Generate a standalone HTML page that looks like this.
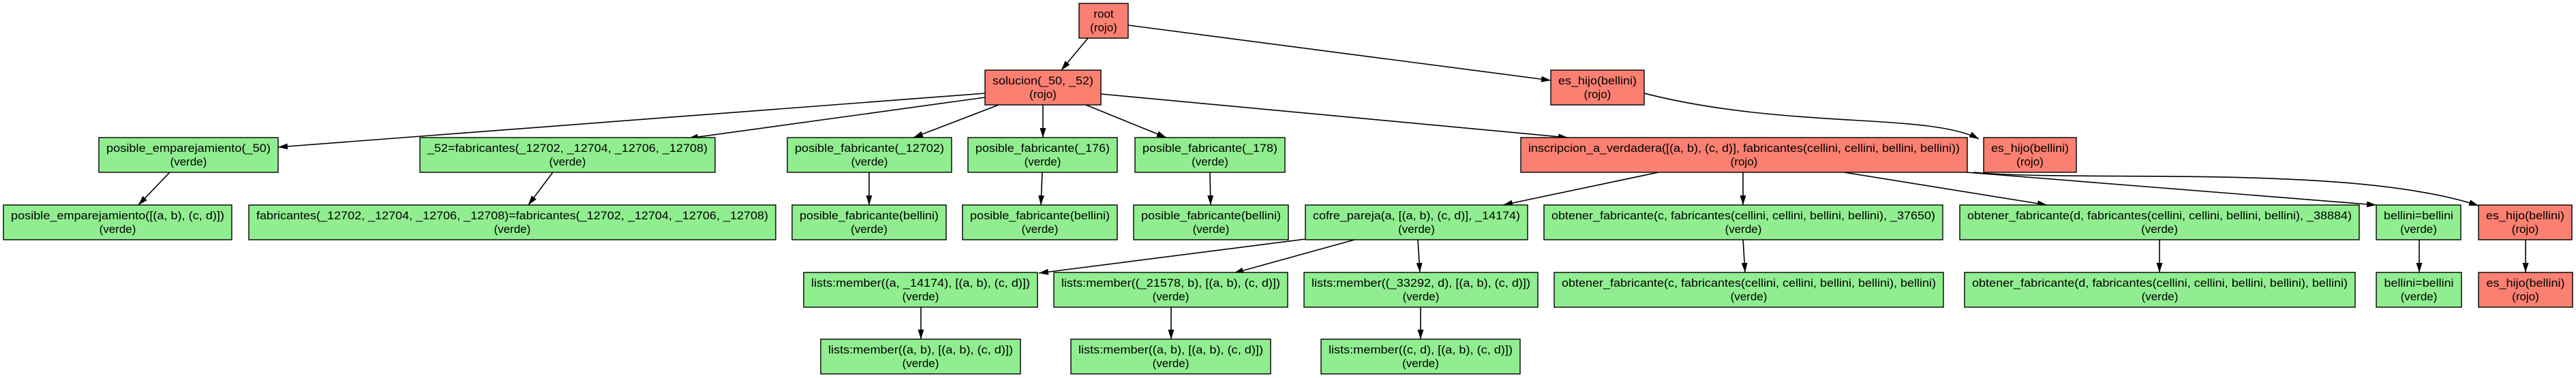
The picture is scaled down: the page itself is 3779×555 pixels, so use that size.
<!DOCTYPE html>
<html><head><meta charset="utf-8"><style>
html,body{margin:0;padding:0;background:#fff;width:3779px;height:555px;overflow:hidden}
svg text{font-family:"Liberation Sans",Arial,sans-serif;font-size:17px;fill:#000;text-anchor:middle}
.r{fill:#fa8072;stroke:#000;stroke-width:1.4}
.g{fill:#90ee90;stroke:#000;stroke-width:1.4}
.e{stroke:#000;stroke-width:1.6;fill:none;marker-end:url(#a)}
</style></head><body>
<svg width="3779" height="555" viewBox="0 0 3779 555" xmlns="http://www.w3.org/2000/svg">
<defs><marker id="a" markerUnits="userSpaceOnUse" markerWidth="15" markerHeight="10" refX="14" refY="4.5" orient="auto"><path d="M0,0 L14,4.5 L0,9 z" fill="#000"/></marker></defs>
<!-- edges -->
<path class="e" d="M1596,56 L1557,103"/>
<path class="e" d="M1655,37 L2275,118"/>
<path class="e" d="M1445,137 L408,216"/>
<path class="e" d="M1445,143 L1010,203"/>
<path class="e" d="M1465,154 L1340,202"/>
<path class="e" d="M1530,154 L1530,202"/>
<path class="e" d="M1593,154 L1711,202"/>
<path class="e" d="M1615,138 L2300,202"/>
<path class="e" d="M2412,137 C2620,190 2830,165 2903,204"/>
<path class="e" d="M249,253 L203,301"/>
<path class="e" d="M811,253 L775,301"/>
<path class="e" d="M1275,253 L1275,301"/>
<path class="e" d="M1529,253 L1527,301"/>
<path class="e" d="M1775,253 L1776,301"/>
<path class="e" d="M2433,253 L2205,301"/>
<path class="e" d="M2557,253 L2557,301"/>
<path class="e" d="M2705,253 L3003,301"/>
<path class="e" d="M2885,253 L3486,301"/>
<path class="e" d="M2895,253 C3050,268 3450,240 3636,302"/>
<path class="e" d="M1915,351 L1524,401"/>
<path class="e" d="M1987,352 L1810,401"/>
<path class="e" d="M2080,352 L2083,400"/>
<path class="e" d="M2557,352 L2560,400"/>
<path class="e" d="M3168,352 L3168,400"/>
<path class="e" d="M3549,352 L3549,400"/>
<path class="e" d="M3705,352 L3705,400"/>
<path class="e" d="M1351,451 L1351,498"/>
<path class="e" d="M1718,451 L1718,498"/>
<path class="e" d="M2084,451 L2084,498"/>
<!-- nodes -->
<rect class="r" x="1583" y="5" width="72" height="51"/><text x="1619" y="26">root</text><text x="1619" y="46">(rojo)</text>
<rect class="r" x="1445" y="103" width="170" height="51"/><text x="1530" y="124" textLength="148" lengthAdjust="spacingAndGlyphs">solucion(_50, _52)</text><text x="1530" y="144">(rojo)</text>
<rect class="r" x="2275" y="103" width="137" height="51"/><text x="2343.5" y="124" textLength="115" lengthAdjust="spacingAndGlyphs">es_hijo(bellini)</text><text x="2343.5" y="144">(rojo)</text>

<rect class="g" x="145" y="202" width="263" height="51"/><text x="276.5" y="223" textLength="241" lengthAdjust="spacingAndGlyphs">posible_emparejamiento(_50)</text><text x="276.5" y="243">(verde)</text>
<rect class="g" x="616" y="202" width="433" height="51"/><text x="832.5" y="223" textLength="411" lengthAdjust="spacingAndGlyphs">_52=fabricantes(_12702, _12704, _12706, _12708)</text><text x="832.5" y="243">(verde)</text>
<rect class="g" x="1155" y="202" width="241" height="51"/><text x="1275.5" y="223" textLength="219" lengthAdjust="spacingAndGlyphs">posible_fabricante(_12702)</text><text x="1275.5" y="243">(verde)</text>
<rect class="g" x="1420" y="202" width="219" height="51"/><text x="1529.5" y="223" textLength="197" lengthAdjust="spacingAndGlyphs">posible_fabricante(_176)</text><text x="1529.5" y="243">(verde)</text>
<rect class="g" x="1665" y="202" width="220" height="51"/><text x="1775" y="223" textLength="198" lengthAdjust="spacingAndGlyphs">posible_fabricante(_178)</text><text x="1775" y="243">(verde)</text>
<rect class="r" x="2231" y="202" width="655" height="51"/><text x="2558.5" y="223" textLength="633" lengthAdjust="spacingAndGlyphs">inscripcion_a_verdadera([(a, b), (c, d)], fabricantes(cellini, cellini, bellini, bellini))</text><text x="2558.5" y="243">(rojo)</text>
<rect class="r" x="2910" y="202" width="136" height="51"/><text x="2978" y="223" textLength="114" lengthAdjust="spacingAndGlyphs">es_hijo(bellini)</text><text x="2978" y="243">(rojo)</text>

<rect class="g" x="5" y="301" width="335" height="51"/><text x="172.5" y="322" textLength="313" lengthAdjust="spacingAndGlyphs">posible_emparejamiento([(a, b), (c, d)])</text><text x="172.5" y="342">(verde)</text>
<rect class="g" x="365" y="301" width="773" height="51"/><text x="751.5" y="322" textLength="751" lengthAdjust="spacingAndGlyphs">fabricantes(_12702, _12704, _12706, _12708)=fabricantes(_12702, _12704, _12706, _12708)</text><text x="751.5" y="342">(verde)</text>
<rect class="g" x="1162" y="301" width="226" height="51"/><text x="1275" y="322" textLength="204" lengthAdjust="spacingAndGlyphs">posible_fabricante(bellini)</text><text x="1275" y="342">(verde)</text>
<rect class="g" x="1412" y="301" width="227" height="51"/><text x="1525.5" y="322" textLength="205" lengthAdjust="spacingAndGlyphs">posible_fabricante(bellini)</text><text x="1525.5" y="342">(verde)</text>
<rect class="g" x="1663" y="301" width="227" height="51"/><text x="1776.5" y="322" textLength="205" lengthAdjust="spacingAndGlyphs">posible_fabricante(bellini)</text><text x="1776.5" y="342">(verde)</text>
<rect class="g" x="1915" y="301" width="326" height="51"/><text x="2078" y="322" textLength="304" lengthAdjust="spacingAndGlyphs">cofre_pareja(a, [(a, b), (c, d)], _14174)</text><text x="2078" y="342">(verde)</text>
<rect class="g" x="2265" y="301" width="585" height="51"/><text x="2557.5" y="322" textLength="563" lengthAdjust="spacingAndGlyphs">obtener_fabricante(c, fabricantes(cellini, cellini, bellini, bellini), _37650)</text><text x="2557.5" y="342">(verde)</text>
<rect class="g" x="2875" y="301" width="586" height="51"/><text x="3168" y="322" textLength="564" lengthAdjust="spacingAndGlyphs">obtener_fabricante(d, fabricantes(cellini, cellini, bellini, bellini), _38884)</text><text x="3168" y="342">(verde)</text>
<rect class="g" x="3486" y="301" width="124" height="51"/><text x="3548" y="322" textLength="102" lengthAdjust="spacingAndGlyphs">bellini=bellini</text><text x="3548" y="342">(verde)</text>
<rect class="r" x="3636" y="301" width="137" height="51"/><text x="3704.5" y="322" textLength="115" lengthAdjust="spacingAndGlyphs">es_hijo(bellini)</text><text x="3704.5" y="342">(rojo)</text>

<rect class="g" x="1179" y="400" width="343" height="51"/><text x="1350.5" y="421" textLength="321" lengthAdjust="spacingAndGlyphs">lists:member((a, _14174), [(a, b), (c, d)])</text><text x="1350.5" y="441">(verde)</text>
<rect class="g" x="1546" y="400" width="343" height="51"/><text x="1717.5" y="421" textLength="321" lengthAdjust="spacingAndGlyphs">lists:member((_21578, b), [(a, b), (c, d)])</text><text x="1717.5" y="441">(verde)</text>
<rect class="g" x="1913" y="400" width="343" height="51"/><text x="2084.5" y="421" textLength="321" lengthAdjust="spacingAndGlyphs">lists:member((_33292, d), [(a, b), (c, d)])</text><text x="2084.5" y="441">(verde)</text>
<rect class="g" x="2280" y="400" width="571" height="51"/><text x="2565.5" y="421" textLength="549" lengthAdjust="spacingAndGlyphs">obtener_fabricante(c, fabricantes(cellini, cellini, bellini, bellini), bellini)</text><text x="2565.5" y="441">(verde)</text>
<rect class="g" x="2882" y="400" width="573" height="51"/><text x="3168.5" y="421" textLength="551" lengthAdjust="spacingAndGlyphs">obtener_fabricante(d, fabricantes(cellini, cellini, bellini, bellini), bellini)</text><text x="3168.5" y="441">(verde)</text>
<rect class="g" x="3486" y="400" width="125" height="51"/><text x="3548.5" y="421" textLength="102" lengthAdjust="spacingAndGlyphs">bellini=bellini</text><text x="3548.5" y="441">(verde)</text>
<rect class="r" x="3636" y="400" width="138" height="51"/><text x="3705" y="421" textLength="115" lengthAdjust="spacingAndGlyphs">es_hijo(bellini)</text><text x="3705" y="441">(rojo)</text>

<rect class="g" x="1204" y="498" width="293" height="51"/><text x="1350.5" y="519" textLength="271" lengthAdjust="spacingAndGlyphs">lists:member((a, b), [(a, b), (c, d)])</text><text x="1350.5" y="539">(verde)</text>
<rect class="g" x="1571" y="498" width="293" height="51"/><text x="1717.5" y="519" textLength="271" lengthAdjust="spacingAndGlyphs">lists:member((a, b), [(a, b), (c, d)])</text><text x="1717.5" y="539">(verde)</text>
<rect class="g" x="1938" y="498" width="292" height="51"/><text x="2084" y="519" textLength="270" lengthAdjust="spacingAndGlyphs">lists:member((c, d), [(a, b), (c, d)])</text><text x="2084" y="539">(verde)</text>
</svg>
</body></html>
